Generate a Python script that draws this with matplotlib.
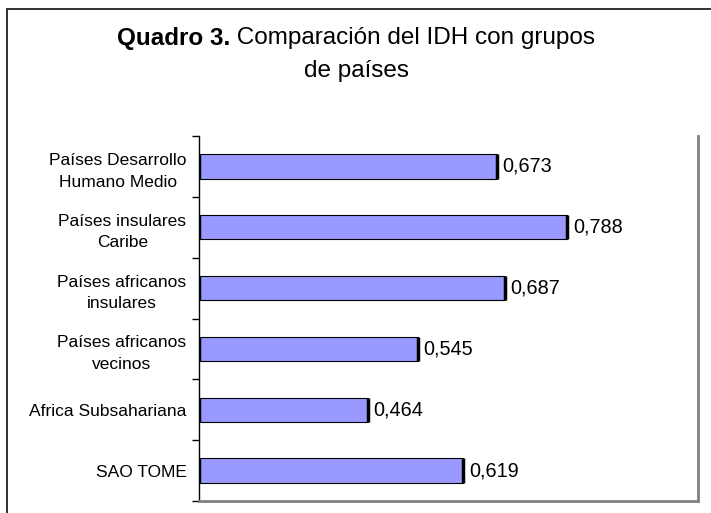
import matplotlib
matplotlib.use("Agg")
import matplotlib.pyplot as plt
from matplotlib.patches import Rectangle

plt.rcParams['font.family'] = ['Liberation Sans', 'DejaVu Sans']

categories = ["Países Desarrollo\nHumano Medio", "Países insulares\nCaribe",
              "Países africanos\ninsulares", "Países africanos\nvecinos",
              "Africa Subsahariana", "SAO TOME"]
values = [0.673, 0.788, 0.687, 0.545, 0.464, 0.619]
value_labels = ["0,673", "0,788", "0,687", "0,545", "0,464", "0,619"]

W, H = 711, 513
fig = plt.figure(figsize=(W / 100, H / 100), dpi=100)

# outer chart frame
fig.patches.append(Rectangle((7 / W, -0.05), 1.2, 1 - 9 / H + 0.05, transform=fig.transFigure,
                             fill=False, edgecolor='#222222', linewidth=1.3))

ax = fig.add_axes([199 / W, 12 / H, (698 - 199) / W, (501 - 136) / H])
y = list(range(len(categories)))
xmin = 0.19
ax.barh(y, [v - xmin for v in values], left=xmin, height=0.4, color='#9999FF',
        edgecolor='black', linewidth=0.8)
ax.vlines(values, [i - 0.2 for i in y], [i + 0.2 for i in y], color='black', linewidth=2.5)
ax.vlines([xmin] * len(y), [i - 0.2 for i in y], [i + 0.2 for i in y], color='black', linewidth=2.5)
for i, (v, lab) in enumerate(zip(values, value_labels)):
    ax.annotate(lab, (v, i), xytext=(4, 0), textcoords='offset points', ha='left', va='center',
                fontsize=14.3)

ax.set_xlim(xmin, 1.0)
ax.set_ylim(len(categories) - 0.5, -0.5)
ax.set_xticks([])
ax.set_yticks(y)
ax.set_yticklabels(categories, fontsize=12.5)
for t in ax.get_yticklabels():
    t.set_multialignment('center')
    t.set_linespacing(1.55)
ax.set_yticks([i - 0.5 for i in range(len(categories) + 1)], minor=True)
ax.tick_params(axis='y', which='major', length=0, pad=9)
ax.tick_params(axis='y', which='minor', length=5, width=1, direction='out', color='black')
ax.spines['top'].set_visible(False)
ax.spines['left'].set_color('black')
ax.spines['left'].set_linewidth(1)
ax.spines['bottom'].set_color('#808080')
ax.spines['bottom'].set_linewidth(2)
ax.spines['right'].set_color('#808080')
ax.spines['right'].set_linewidth(2)

# title with bold prefix
t1 = fig.text(0, 1 - 38 / H, "Quadro 3.", fontsize=17.5, fontweight='bold', va='center', ha='left')
t2 = fig.text(0, 1 - 38 / H, " Comparación del IDH con grupos", fontsize=17.5, va='center', ha='left')
fig.canvas.draw()
r = fig.canvas.get_renderer()
w1 = t1.get_window_extent(r).width
w2 = t2.get_window_extent(r).width
start = 356 - (w1 + w2) / 2
t1.set_x(start / W)
t2.set_x((start + w1) / W)
fig.text(357 / W, 1 - 71 / H, "de países", fontsize=17.5, va='center', ha='center')

fig.savefig("out.png", dpi=100)
